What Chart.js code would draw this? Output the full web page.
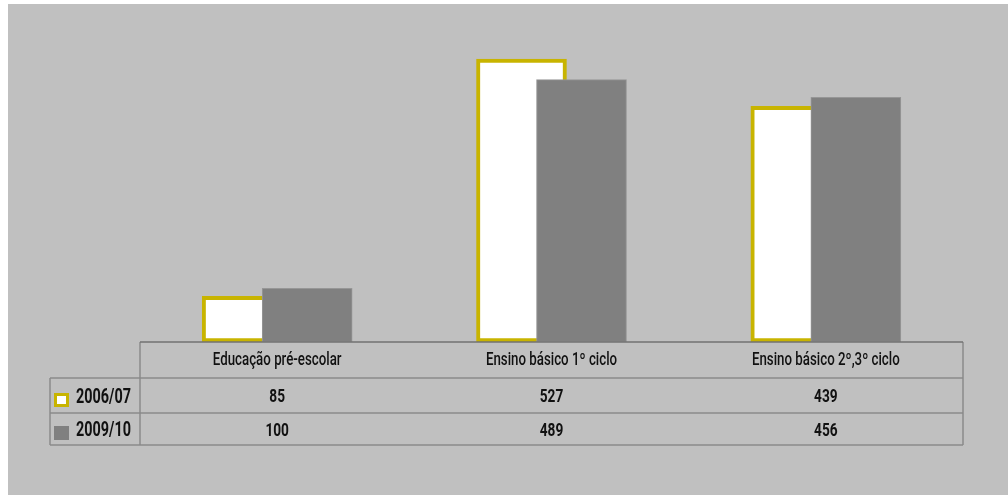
<!DOCTYPE html>
<html>
<head>
<meta charset="utf-8">
<script src="https://cdn.jsdelivr.net/npm/chart.js@4"></script>
<style>
    body { margin: 0; background: #ffffff; }
    #wrap { position: absolute; left: 8px; top: 4px; width: 1000px; height: 491px; background: #c0c0c0; }
</style>
</head>
<body>
<div id="wrap"><canvas id="bar-chart"></canvas></div>
<script>
var categories = ["Educação pré-escolar", "Ensino básico 1º ciclo", "Ensino básico 2º,3º ciclo"];
var seriesNames = ["2006/07", "2009/10"];
var values0607 = [85, 527, 439];
var values0910 = [100, 489, 456];

var yellow = "#c8b400";
var grey = "#808080";
var lineColor = "#8a8a8a";
var font = "Roboto, 'DejaVu Sans', sans-serif";
var shift = 0.1094; // half the distance between the two bars of a group, in category units

function toPoints(vals, dx) {
    return vals.map(function (v, i) { return { x: i + dx, y: v }; });
}

// condensed-looking text: draw squeezed horizontally
function squeezed(ctx, text, x, y, font_, sx, align) {
    ctx.save();
    ctx.font = font_;
    ctx.textAlign = align;
    ctx.translate(x, y);
    ctx.scale(sx, 1);
    ctx.fillText(text, 0, 0);
    ctx.restore();
}

// data table under the bars
var tablePlugin = {
    id: 'dataTable',
    afterDatasetsDraw: function (chart) {
        var ctx = chart.ctx;
        var area = chart.chartArea;
        var x = chart.scales.x;
        var top = area.bottom;
        var left = 42;
        var rows = [top, top + 36, top + 71, top + 103];

        ctx.save();
        ctx.strokeStyle = lineColor;
        ctx.lineWidth = 1.5;
        ctx.beginPath();
        ctx.moveTo(left, rows[1]); ctx.lineTo(area.right, rows[1]);
        ctx.moveTo(left, rows[2]); ctx.lineTo(area.right, rows[2]);
        ctx.moveTo(left, rows[3]); ctx.lineTo(area.right, rows[3]);
        ctx.moveTo(area.left, rows[0]); ctx.lineTo(area.left, rows[3]);
        ctx.moveTo(area.right, rows[0]); ctx.lineTo(area.right, rows[3]);
        ctx.moveTo(left, rows[1]); ctx.lineTo(left, rows[3]);
        ctx.stroke();

        // axis line over the bar bottoms
        ctx.strokeStyle = "#727272";
        ctx.beginPath();
        ctx.moveTo(area.left, rows[0]); ctx.lineTo(area.right, rows[0]);
        ctx.stroke();

        ctx.fillStyle = "#111111";
        ctx.textBaseline = "middle";
        categories.forEach(function (c, i) {
            squeezed(ctx, c, x.getPixelForValue(i), (rows[0] + rows[1]) / 2 + 1, "500 17.5px " + font, 0.76, "center");
        });
        [values0607, values0910].forEach(function (vals, r) {
            var cy = (rows[r + 1] + rows[r + 2]) / 2 + 2;
            vals.forEach(function (v, i) {
                squeezed(ctx, String(v), x.getPixelForValue(i), cy, "bold 19px " + font, 0.72, "center");
            });
        });

        // row labels with legend keys
        squeezed(ctx, seriesNames[0], 68, (rows[1] + rows[2]) / 2 + 2, "bold 20px " + font, 0.72, "left");
        squeezed(ctx, seriesNames[1], 68, (rows[2] + rows[3]) / 2 + 2, "bold 20px " + font, 0.72, "left");
        ctx.fillStyle = yellow;
        ctx.fillRect(46, 389, 15, 14);
        ctx.fillStyle = "#ffffff";
        ctx.fillRect(49, 392, 9, 8);
        ctx.fillStyle = grey;
        ctx.fillRect(46, 422, 15, 14);
        ctx.restore();
    }
};

new Chart(document.getElementById("bar-chart"), {
    type: 'bar',
    data: {
        datasets: [
            {
                label: seriesNames[0],
                data: toPoints(values0607, -shift),
                backgroundColor: "#ffffff",
                borderColor: yellow,
                borderWidth: 4,
                borderSkipped: false,
                order: 2
            },
            {
                label: seriesNames[1],
                data: toPoints(values0910, shift),
                backgroundColor: grey,
                borderColor: "#969696",
                borderWidth: 1,
                borderSkipped: false,
                order: 1
            }
        ]
    },
    options: {
        responsive: true,
        maintainAspectRatio: false,
        animation: false,
        grouped: false,
        barThickness: 90,
        layout: {
            padding: { left: 132, right: 45, top: 16, bottom: 153 }
        },
        plugins: {
            legend: { display: false },
            tooltip: { enabled: false }
        },
        scales: {
            x: { type: 'linear', display: false, offset: false, min: -0.5, max: 2.5 },
            y: { display: false, min: 0, max: 600 }
        }
    },
    plugins: [tablePlugin]
});
</script>
</body>
</html>
